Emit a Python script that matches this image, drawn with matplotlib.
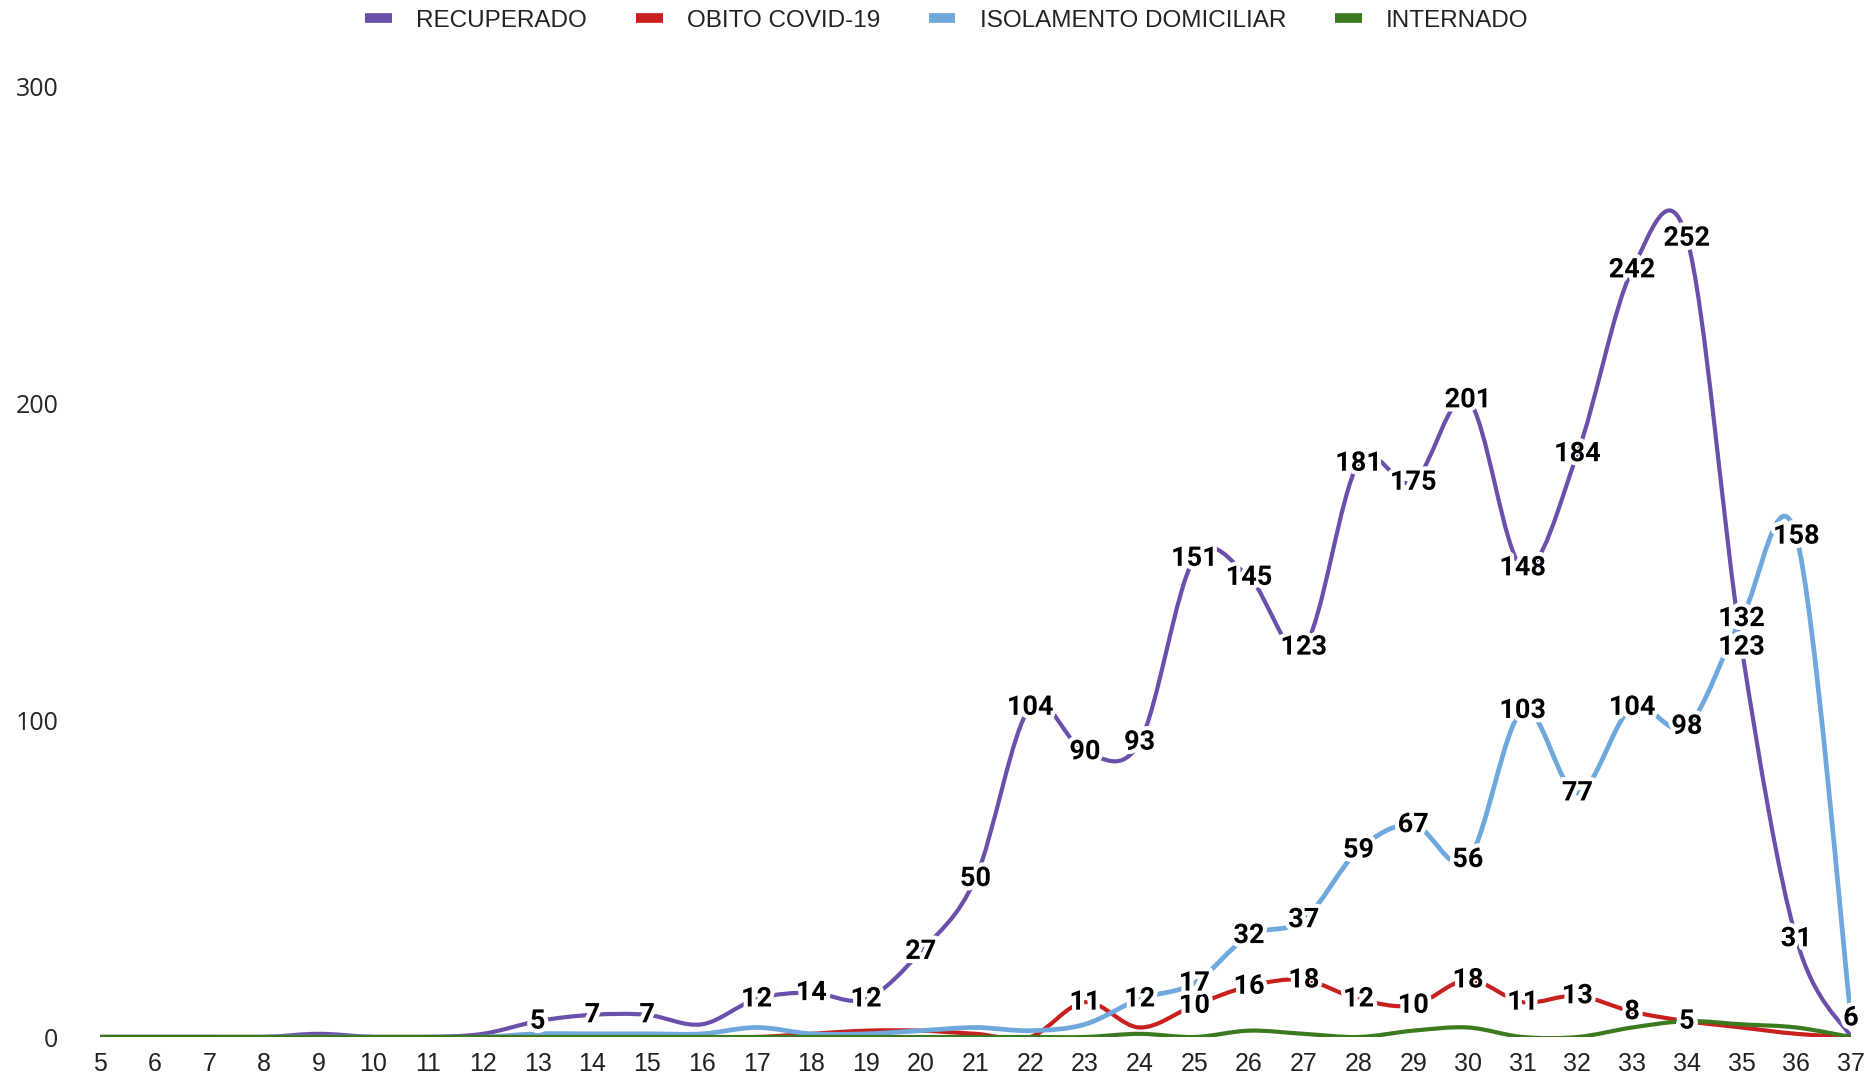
import matplotlib
matplotlib.use("Agg")
import matplotlib.pyplot as plt
from matplotlib.path import Path
from matplotlib.patches import PathPatch
from matplotlib.lines import Line2D
import matplotlib.patheffects as pe

weeks = list(range(5, 38))

recuperado = [0, 0, 0, 0, 1, 0, 0, 1, 5, 7, 7, 4, 12, 14, 12, 27, 50, 104, 90, 93,
              151, 145, 123, 181, 175, 201, 148, 184, 242, 252, 123, 31, 0]
obito = [0, 0, 0, 0, 0, 0, 0, 0, 0, 0, 0, 0, 0, 1, 2, 2, 1, 0, 11, 3,
         10, 16, 18, 12, 10, 18, 11, 13, 8, 5, 3, 1, 0]
isolamento = [0, 0, 0, 0, 0, 0, 0, 0, 1, 1, 1, 1, 3, 1, 1, 2, 3, 2, 4, 12,
              17, 32, 37, 59, 67, 56, 103, 77, 104, 98, 132, 158, 6]
internado = [0, 0, 0, 0, 0, 0, 0, 0, 0, 0, 0, 0, 0, 0, 0, 0, 0, 0, 0, 1,
             0, 2, 1, 0, 2, 3, 0, 0, 3, 5, 4, 3, 0]

series = [
    ("RECUPERADO", recuperado, "#6a4fab", 3.0),
    ("OBITO COVID-19", obito, "#c8201e", 3.0),
    ("ISOLAMENTO DOMICILIAR", isolamento, "#6fa8dc", 3.4),
    ("INTERNADO", internado, "#3b7a1f", 3.0),
]

LABEL_MIN = 5


def smooth_path(xs, ys):
    # Catmull-Rom style cubic bezier, like the spreadsheet's "smoothed line"
    pts = list(zip(xs, ys))
    n = len(pts)
    verts = [pts[0]]
    codes = [Path.MOVETO]
    for i in range(n - 1):
        p0 = pts[i - 1] if i > 0 else pts[i]
        p1 = pts[i]
        p2 = pts[i + 1]
        p3 = pts[i + 2] if i + 2 < n else pts[i + 1]
        c1 = (p1[0] + (p2[0] - p0[0]) / 6, p1[1] + (p2[1] - p0[1]) / 6)
        c2 = (p2[0] - (p3[0] - p1[0]) / 6, p2[1] - (p3[1] - p1[1]) / 6)
        verts += [c1, c2, p2]
        codes += [Path.CURVE4] * 3
    return Path(verts, codes)


fig = plt.figure(figsize=(18.75, 10.81), dpi=100)
ax = fig.add_axes([0.0533, 0.0407, 0.9339, 0.8797])
ax.set_xlim(5, 37)
ax.set_ylim(0, 300)

for name, vals, color, lw in series:
    ax.add_patch(PathPatch(smooth_path(weeks, vals), facecolor="none",
                           edgecolor=color, lw=lw, capstyle="round",
                           joinstyle="round"))

stroke = [pe.withStroke(linewidth=6, foreground="white")]
for name, vals, color, lw in series:
    for x, v in zip(weeks, vals):
        if v >= LABEL_MIN:
            ax.text(x, v, str(v), ha="center", va="center", fontsize=19.5,
                    fontweight="bold", family=["Roboto", "DejaVu Sans"],
                    color="black", path_effects=stroke, zorder=5)

ax.set_xticks(weeks)
ax.set_xticklabels([str(w) for w in weeks], family=["Liberation Sans"],
                   fontsize=18, color="#222222")
ax.set_yticks([0, 100, 200, 300])
ax.set_yticklabels(["0", "100", "200", "300"], family=["Open Sans"],
                   fontsize=18, color="#262626")
ax.tick_params(axis="both", length=0)
ax.tick_params(axis="x", pad=11)
ax.tick_params(axis="y", pad=30)
for s in ax.spines.values():
    s.set_visible(False)

handles = [Line2D([0], [0], color=c, lw=7, solid_capstyle="butt")
           for _, _, c, _ in series]
fig.legend(handles, [s[0] for s in series], loc="center",
           bbox_to_anchor=(0.505, 0.981), ncol=4, frameon=False,
           prop={"family": ["Liberation Sans"], "size": 17.5},
           handlelength=1.1, handletextpad=1.0, columnspacing=2.0,
           labelcolor="#222222")

fig.savefig("out.png", dpi=100)
